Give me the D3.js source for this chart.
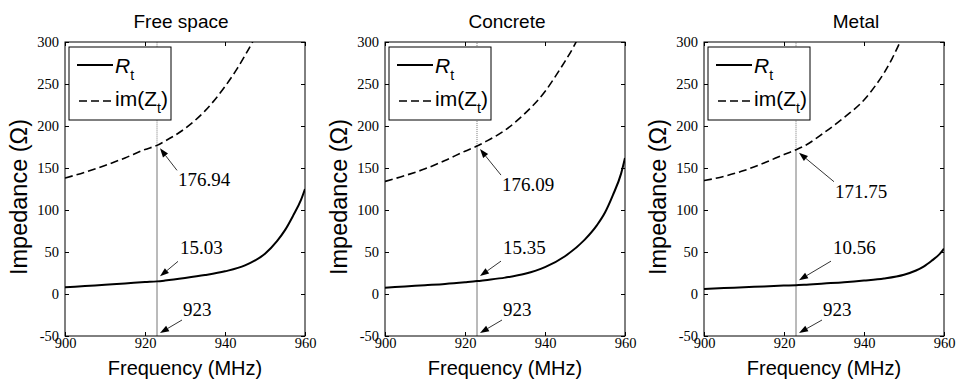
<!DOCTYPE html>
<html>
<head>
<meta charset="utf-8">
<script src="https://cdn.jsdelivr.net/npm/d3@7"></script>
<style>
  body { margin: 0; background: #fff; }
</style>
</head>
<body>
<script>
// panel titles
var titles = ["Free space", "Concrete", "Metal"];

// R_t curves (solid)
var rFreq = [900, 905, 910, 915, 920, 923, 925, 930, 935, 940, 945, 950, 953, 955, 957, 959, 960];
var rFree = [8, 9.5, 11, 12.5, 14.2, 15.03, 16, 19, 22.5, 27, 34, 48, 63, 76, 93, 112, 125];
var rConcrete = [7.5, 9, 10.5, 12, 14, 15.35, 16.5, 19.5, 24, 32, 45, 65, 82, 97, 118, 143, 162];
var rMetal = [6, 7, 8, 9, 10, 10.56, 11, 12.5, 14, 16, 18.5, 23, 28, 33, 40, 48, 54];

// im(Z_t) curves (dashed), they leave the plot at the top
var imFreq = [900, 905, 910, 915, 920, 923, 925, 930, 935, 940, 943, 945, 947, 949, 951];
var imFree = [138, 145, 153, 162, 172, 176.94, 182, 197, 218, 247, 268, 284, 301, 320, 342];
var imConcrete = [134, 141, 149, 159, 170, 176.09, 181, 195, 215, 241, 262, 277, 293, 312, 333];
var imMetal = [135, 140, 147, 156, 166, 171.75, 176, 192, 210, 231, 249, 263, 280, 300, 322];

// marked frequency and values
var markFreq = 923;
var markIm = [176.94, 176.09, 171.75];
var markR = [15.03, 15.35, 10.56];

var xTicks = [900, 920, 940, 960];
var yTicks = [-50, 0, 50, 100, 150, 200, 250, 300];

var rSeries = [rFree, rConcrete, rMetal];
var imSeries = [imFree, imConcrete, imMetal];

// layout
var svgWidth = 957, svgHeight = 381;
var panelLeft = [65, 385, 704];
var plotW = 240;
var plotTop = 42, plotBottom = 336;
var titleShift = [-4, 2, 32];
// label offsets from the marked point: [dx, dy] of text start / baseline
var imLabelOff = [[21, 41], [25, 45], [39, 48]];
var rLabelOff = [[23, -27], [26, -27], [37, -31]];
var fLabelOff = [[26, -20], [26, -20], [27, -20]];

var serif = "'Liberation Serif', 'Times New Roman', serif";
var sans = "'Liberation Sans', Arial, sans-serif";

var svg = d3.select("body")
  .append("svg")
  .attr("width", svgWidth)
  .attr("height", svgHeight);

function arrow(g, x1, y1, x2, y2) {
  var ang = Math.atan2(y2 - y1, x2 - x1);
  var len = 9, hw = 3.2;
  var bx = x2 - len * Math.cos(ang), by = y2 - len * Math.sin(ang);
  g.append("line")
    .attr("x1", x1).attr("y1", y1)
    .attr("x2", bx).attr("y2", by)
    .attr("stroke", "#000")
    .attr("stroke-width", 0.8);
  var px = -Math.sin(ang) * hw, py = Math.cos(ang) * hw;
  g.append("path")
    .attr("d", "M" + x2 + "," + y2 + "L" + (bx + px) + "," + (by + py) + "L" + (bx - px) + "," + (by - py) + "Z")
    .attr("fill", "#000");
}

titles.forEach(function(title, i) {
  var x0 = panelLeft[i];
  var x = d3.scaleLinear().domain([900, 960]).range([x0, x0 + plotW]);
  var y = d3.scaleLinear().domain([-50, 300]).range([plotBottom, plotTop]);
  var g = svg.append("g");

  g.append("clipPath").attr("id", "clip" + i)
    .append("rect")
    .attr("x", x0).attr("y", plotTop)
    .attr("width", plotW).attr("height", plotBottom - plotTop);

  // axes, ticks pointing inwards
  var ax = [
    g.append("g").attr("transform", "translate(0," + plotBottom + ")")
      .call(d3.axisBottom(x).tickValues(xTicks).tickSize(-4).tickPadding(2).tickFormat(String)),
    g.append("g").attr("transform", "translate(0," + plotTop + ")")
      .call(d3.axisTop(x).tickValues(xTicks).tickSize(-4).tickFormat("")),
    g.append("g").attr("transform", "translate(" + x0 + ",0)")
      .call(d3.axisLeft(y).tickValues(yTicks).tickSize(-4).tickPadding(6).tickFormat(String)),
    g.append("g").attr("transform", "translate(" + (x0 + plotW) + ",0)")
      .call(d3.axisRight(y).tickValues(yTicks).tickSize(-4).tickFormat(""))
  ];
  ax.forEach(function(a) {
    a.select(".domain").remove();
    a.selectAll("line").attr("stroke", "#000");
    a.selectAll("text")
      .attr("font-family", serif)
      .attr("font-size", 14.5)
      .attr("fill", "#000");
  });

  // marker line at 923 MHz
  var mx = x(markFreq);
  g.append("line")
    .attr("x1", mx).attr("x2", mx)
    .attr("y1", y(-50)).attr("y2", y(markIm[i]))
    .attr("stroke", "#777").attr("stroke-width", 1);
  g.append("line")
    .attr("x1", mx).attr("x2", mx)
    .attr("y1", y(markIm[i])).attr("y2", y(300))
    .attr("stroke", "#777").attr("stroke-width", 1)
    .attr("stroke-dasharray", "1,1");

  // curves
  var rData = rFreq.map(function(f, k) { return [f, rSeries[i][k]]; });
  var imData = imFreq.map(function(f, k) { return [f, imSeries[i][k]]; });
  var line = d3.line()
    .x(function(d) { return x(d[0]); })
    .y(function(d) { return y(d[1]); })
    .curve(d3.curveMonotoneX);

  var curves = g.append("g").attr("clip-path", "url(#clip" + i + ")");
  curves.append("path")
    .datum(rData)
    .attr("d", line)
    .attr("fill", "none")
    .attr("stroke", "#000")
    .attr("stroke-width", 2);
  curves.append("path")
    .datum(imData)
    .attr("d", line)
    .attr("fill", "none")
    .attr("stroke", "#000")
    .attr("stroke-width", 1.6)
    .attr("stroke-dasharray", "8,4");

  // box
  g.append("rect")
    .attr("x", x0).attr("y", plotTop)
    .attr("width", plotW).attr("height", plotBottom - plotTop)
    .attr("fill", "none")
    .attr("stroke", "#000");

  // legend
  var lg = g.append("g");
  lg.append("rect")
    .attr("x", x0 + 4).attr("y", 47)
    .attr("width", 102).attr("height", 73)
    .attr("fill", "#fff")
    .attr("stroke", "#000");
  lg.append("line")
    .attr("x1", x0 + 12).attr("x2", x0 + 48)
    .attr("y1", 65).attr("y2", 65)
    .attr("stroke", "#000").attr("stroke-width", 2);
  lg.append("line")
    .attr("x1", x0 + 14).attr("x2", x0 + 48)
    .attr("y1", 101).attr("y2", 101)
    .attr("stroke", "#000").attr("stroke-width", 1.6)
    .attr("stroke-dasharray", "8,4");
  var t1 = lg.append("text")
    .attr("x", x0 + 50).attr("y", 73)
    .attr("font-family", sans).attr("font-size", 21);
  t1.append("tspan").attr("font-style", "italic").text("R");
  t1.append("tspan").attr("font-size", 14).attr("dy", 7).text("t");
  var t2 = lg.append("text")
    .attr("x", x0 + 50).attr("y", 106)
    .attr("font-family", sans).attr("font-size", 21);
  t2.append("tspan").text("im(Z");
  t2.append("tspan").attr("font-size", 14).attr("dy", 7).text("t");
  t2.append("tspan").attr("dy", -7).text(")");

  // annotations
  var pIm = [mx, y(markIm[i])];
  var pR = [mx, y(markR[i])];
  var pF = [mx, y(-50)];
  var ann = [
    { p: pIm, off: imLabelOff[i], text: d3.format(".2f")(markIm[i]), tail: [-1, -16], head: [3, 3] },
    { p: pR, off: rLabelOff[i], text: d3.format(".2f")(markR[i]), tail: [-2, 7], head: [3, -5] },
    { p: pF, off: fLabelOff[i], text: String(markFreq), tail: [-1, 4], head: [3, -3] }
  ];
  ann.forEach(function(a) {
    var tx = a.p[0] + a.off[0], ty = a.p[1] + a.off[1];
    g.append("text")
      .attr("x", tx).attr("y", ty)
      .attr("font-family", serif)
      .attr("font-size", 19)
      .text(a.text);
    arrow(g, tx + a.tail[0], ty + a.tail[1], a.p[0] + a.head[0], a.p[1] + a.head[1]);
  });

  // titles and axis labels
  g.append("text")
    .attr("x", x0 + plotW / 2 + titleShift[i]).attr("y", 28)
    .attr("text-anchor", "middle")
    .attr("font-family", sans).attr("font-size", 19)
    .text(title);
  g.append("text")
    .attr("x", x0 + plotW / 2).attr("y", 375)
    .attr("text-anchor", "middle")
    .attr("font-family", sans).attr("font-size", 20)
    .text("Frequency (MHz)");
  g.append("text")
    .attr("transform", "translate(" + (x0 - 38) + ",197) rotate(-90)")
    .attr("text-anchor", "middle")
    .attr("font-family", sans).attr("font-size", 23.5)
    .text("Impedance (Ω)");
});
</script>
</body>
</html>
